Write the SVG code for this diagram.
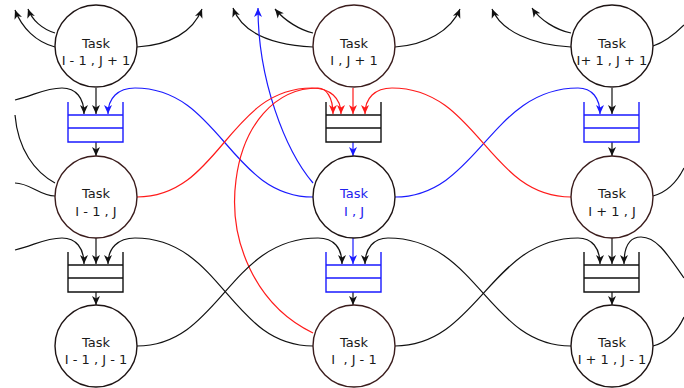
<svg xmlns="http://www.w3.org/2000/svg" width="684" height="388" viewBox="0 0 684 388">
<style>
.c{fill:#fff;stroke:#1e1414;stroke-width:1.4}
.cb{fill:#fff;stroke:#3a1c1c;stroke-width:1.4}
.t{font-family:"DejaVu Sans",sans-serif;font-size:13px;fill:#1a1a1a;text-anchor:middle;white-space:pre}
.tb{fill:#2222ee}
.q{fill:none;stroke-width:1.4}
.k{fill:none;stroke:#111;stroke-width:1.2}
.r{fill:none;stroke:#ff1a1a;stroke-width:1.2}
.b{fill:none;stroke:#1a1aff;stroke-width:1.2}
.k.a{marker-end:url(#ak)}
.r.a{marker-end:url(#ar)}
.b.a{marker-end:url(#ab)}
</style>
<defs>
<marker id="ak" viewBox="-10 -5 10 10" refX="0" refY="0" markerWidth="10" markerHeight="10" markerUnits="userSpaceOnUse" orient="auto"><path d="M0,0 L-9,-4 L-6.5,0 L-9,4 Z" fill="#111"/></marker>
<marker id="ar" viewBox="-10 -5 10 10" refX="0" refY="0" markerWidth="10" markerHeight="10" markerUnits="userSpaceOnUse" orient="auto"><path d="M0,0 L-9,-4 L-6.5,0 L-9,4 Z" fill="#ff1a1a"/></marker>
<marker id="ab" viewBox="-10 -5 10 10" refX="0" refY="0" markerWidth="10" markerHeight="10" markerUnits="userSpaceOnUse" orient="auto"><path d="M0,0 L-9,-4 L-6.5,0 L-9,4 Z" fill="#1a1aff"/></marker>
</defs>
<rect width="684" height="388" fill="#fff"/>

<g id="connectors">
<!-- top row outputs -->
<path class="k a" d="M55,33 C42,29 32,20 28,9"/>
<path class="k a" d="M55,47 C36,42 22,28 15,10"/>
<path class="k a" d="M137,47 C170,45 193,32 202,9"/>
<path class="k a" d="M313,33 C300,30 285,21 275,9"/>
<path class="k a" d="M313,47 C275,45 243,35 233,8"/>
<path class="k a" d="M395,47 C425,45 451,31 460,9"/>
<path class="k a" d="M571,33 C556,30 540,20 532,8"/>
<path class="k a" d="M571,47 C532,45 501,31 492,9"/>
<path class="k" d="M653,46 C666,42 676,33 684,25"/>
<!-- straight arrows circle -> queue -->
<path class="k a" d="M96,88 V114"/>
<path class="r a" d="M353,88 V114"/>
<path class="k a" d="M612,88 V114"/>
<path class="k a" d="M96,238 V264"/>
<path class="b a" d="M353,238 V264"/>
<path class="k a" d="M612,238 V264"/>
<!-- queue -> circle -->
<path class="k a" d="M96,142 V156"/>
<path class="b a" d="M353,142 V156"/>
<path class="k a" d="M612,142 V156"/>
<path class="k a" d="M96,292 V305"/>
<path class="k a" d="M353,292 V305"/>
<path class="k a" d="M612,292 V305"/>
<!-- left edge -->
<path class="k a" d="M15,100 C35,95 45,88 62,88 C76,88 84,98 84,114"/>
<path class="k a" d="M15,250 C35,245 45,238 62,238 C76,238 84,248 84,264"/>
<path class="k" d="M15,115 C18,150 35,172 55,183"/>
<path class="k" d="M15,183 C30,183 40,196 55,196"/>
<!-- right edge -->
<path class="k" d="M653,196 C668,192 678,180 684,168"/>
<path class="k" d="M653,346 C668,342 678,330 684,317"/>
<path class="k a" d="M684,278 C666,252 656,237 641,237 C629,237 624,248 624,264"/>
<!-- blue from Task I,J -->
<path class="b a" d="M313,197 C230,197 220,88 135,88 C118,88 108,98 108,114"/>
<path class="b a" d="M395,197 C478,197 490,88 578,88 C592,88 600,98 600,114"/>
<path class="b a" d="M313,183 C285,150 258,80 258,8"/>
<!-- red into queue of Task I,J -->
<path class="r a" d="M137,197 C220,197 228,88 312,88 C330,88 341,98 341,114"/>
<path class="r a" d="M571,197 C488,197 478,88 392,88 C375,88 365,98 365,114"/>
<path class="r a" d="M313,333 C255,305 228,240 236,180 C243,125 275,88 318,88 C326,88 333,97 333,114"/>
<!-- bottom row crossings -->
<path class="k a" d="M313,346 C230,346 222,238 135,238 C118,238 108,248 108,264"/>
<path class="k a" d="M137,346 C220,346 228,238 318,238 C334,238 342,248 342,264"/>
<path class="k a" d="M395,346 C478,346 490,238 578,238 C592,238 600,248 600,264"/>
<path class="k a" d="M571,346 C488,346 478,238 388,238 C374,238 365,248 365,264"/>
</g>

<g id="queue-top-left"><path class="q" stroke="#1a1aff" d="M68,102 V142 H123 V102 M68,115 H123 M68,128 H123"/></g>
<g id="queue-top-mid"><path class="q" stroke="#111" d="M326,102 V142 H381 V102 M326,115 H381 M326,128 H381"/></g>
<g id="queue-top-right"><path class="q" stroke="#1a1aff" d="M584,102 V142 H639 V102 M584,115 H639 M584,128 H639"/></g>
<g id="queue-bot-left"><path class="q" stroke="#111" d="M68,252 V292 H123 V252 M68,265 H123 M68,278 H123"/></g>
<g id="queue-bot-mid"><path class="q" stroke="#1a1aff" d="M326,252 V292 H381 V252 M326,265 H381 M326,278 H381"/></g>
<g id="queue-bot-right"><path class="q" stroke="#111" d="M584,252 V292 H639 V252 M584,265 H639 M584,278 H639"/></g>

<g id="task-im1-jp1"><circle class="c" cx="96" cy="46" r="41"/><text class="t" x="96" y="48">Task</text><text class="t" x="96" y="65">I - 1 , J + 1</text></g>
<g id="task-i-jp1"><circle class="cb" cx="354" cy="46" r="41"/><text class="t" x="354" y="48">Task</text><text class="t" x="354" y="65">I , J + 1</text></g>
<g id="task-ip1-jp1"><circle class="c" cx="612" cy="46" r="41"/><text class="t" x="612" y="48">Task</text><text class="t" x="612" y="65">I+ 1 , J + 1</text></g>
<g id="task-im1-j"><circle class="cb" cx="96" cy="197" r="41"/><text class="t" x="96" y="198">Task</text><text class="t" x="96" y="216">I - 1 , J</text></g>
<g id="task-i-j"><circle class="c" cx="354" cy="197" r="41"/><text class="t tb" x="354" y="198">Task</text><text class="t tb" x="354" y="216">I , J</text></g>
<g id="task-ip1-j"><circle class="cb" cx="612" cy="197" r="41"/><text class="t" x="612" y="198">Task</text><text class="t" x="612" y="216">I + 1 , J</text></g>
<g id="task-im1-jm1"><circle class="c" cx="96" cy="346" r="41"/><text class="t" x="96" y="347">Task</text><text class="t" x="96" y="364">I - 1 , J - 1</text></g>
<g id="task-i-jm1"><circle class="cb" cx="354" cy="346" r="41"/><text class="t" x="354" y="347">Task</text><text class="t" x="354" y="364">I  , J - 1</text></g>
<g id="task-ip1-jm1"><circle class="c" cx="612" cy="346" r="41"/><text class="t" x="612" y="347">Task</text><text class="t" x="612" y="364">I + 1 , J - 1</text></g>
</svg>
